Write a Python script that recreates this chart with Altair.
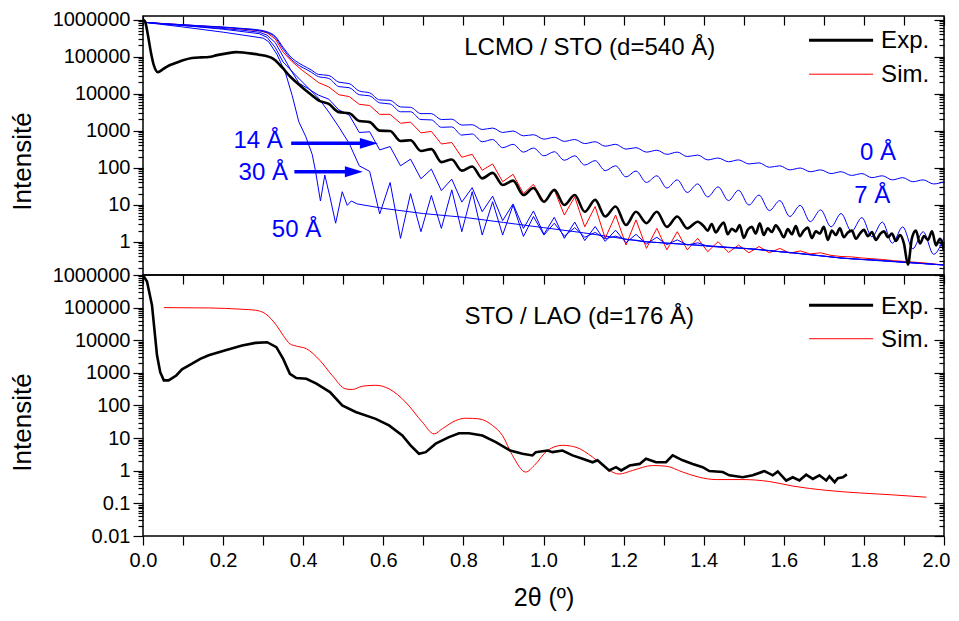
import altair as alt
import pandas as pd

FONT = "Liberation Sans"
BLUE, RED, BLACK = "#0000ff", "#ff0000", "#000000"

# ------------------------------------------------------------------
# Data (values are log10 of the intensity)
# ------------------------------------------------------------------
# Positions of the fringe extrema (alternating trough / peak) in 2theta
fringe_x = [0.438, 0.464, 0.489, 0.515, 0.540, 0.566, 0.591, 0.617, 0.643, 0.668,
            0.694, 0.720, 0.745, 0.771, 0.796, 0.822, 0.847, 0.873, 0.898, 0.924,
            0.950, 0.975, 1.001, 1.027, 1.052, 1.078, 1.103, 1.129, 1.154, 1.180,
            1.206, 1.231, 1.257, 1.283, 1.308, 1.334, 1.359, 1.385, 1.410, 1.436,
            1.462, 1.487, 1.513, 1.538, 1.564, 1.590, 1.615, 1.641, 1.666, 1.692,
            1.718, 1.743, 1.769, 1.795, 1.820, 1.846, 1.871, 1.897, 1.922, 1.948,
            1.974, 2.000]

edge_x = [0.0, 0.05, 0.1, 0.15, 0.2, 0.25, 0.29, 0.31, 0.33, 0.35, 0.37, 0.39, 0.41, 0.42]

# simulation, roughness 0 A
r0_edge_lg = [5.93, 5.89, 5.86, 5.83, 5.80, 5.76, 5.72, 5.67, 5.55, 5.25, 4.98, 4.82, 4.70, 4.64]
r0_fringe_lg = [4.52, 4.49, 4.31, 4.27, 4.07, 4.02, 3.83, 3.82, 3.64, 3.63,
                3.46, 3.46, 3.30, 3.31, 3.15, 3.16, 3.03, 3.07, 2.95, 2.99,
                2.86, 2.89, 2.77, 2.82, 2.71, 2.76, 2.65, 2.70, 2.58, 2.63,
                2.50, 2.54, 2.42, 2.47, 2.36, 2.42, 2.30, 2.34, 2.21, 2.26,
                2.16, 2.21, 2.10, 2.13, 2.01, 2.05, 1.94, 1.99, 1.89, 1.94,
                1.84, 1.89, 1.79, 1.84, 1.73, 1.78, 1.67, 1.73, 1.62, 1.67,
                1.56, 1.62]

# simulation, roughness 7 A
r7_edge_lg = [5.93, 5.89, 5.86, 5.82, 5.79, 5.75, 5.70, 5.65, 5.52, 5.20, 4.93, 4.76, 4.64, 4.58]
r7_fringe_lg = [4.46, 4.41, 4.19, 4.16, 3.97, 3.94, 3.75, 3.72, 3.51, 3.51,
                3.30, 3.29, 3.09, 3.10, 2.88, 2.91, 2.70, 2.76, 2.54, 2.63,
                2.42, 2.53, 2.32, 2.43, 2.20, 2.32, 2.07, 2.19, 1.92, 2.05,
                1.75, 1.91, 1.60, 1.78, 1.45, 1.67, 1.33, 1.56, 1.21, 1.48,
                1.11, 1.39, 0.99, 1.26, 0.84, 1.11, 0.68, 0.98, 0.54, 0.86,
                0.40, 0.76, 0.28, 0.65, 0.13, 0.53, -0.04, 0.40, -0.19, 0.27,
                -0.34, 0.12]

# simulation, roughness 14 A
r14_edge_lg = [5.93, 5.88, 5.84, 5.80, 5.76, 5.71, 5.66, 5.58, 5.38, 5.00, 4.62, 4.28, 4.15, 4.08]
r14_fringe_lg = [3.96, 3.85, 3.56, 3.42, 2.95, 2.97, 2.48, 2.57, 2.05, 2.23,
                 1.70, 1.96, 1.38, 1.69, 1.07, 1.46, 0.81, 1.23, 0.57, 1.02,
                 0.36, 0.83, 0.20, 0.66, 0.09, 0.53, 0.03, 0.41, 0.01, 0.31,
                 -0.03, 0.20, -0.06, 0.12, -0.08, 0.05, -0.09, -0.03, -0.12, -0.14,
                 -0.16, -0.17, -0.19, -0.21, -0.24, -0.27, -0.29, -0.32, -0.35, -0.38,
                 -0.41, -0.44, -0.46, -0.48, -0.49, -0.51, -0.53, -0.55, -0.57, -0.59,
                 -0.61, -0.63]

# simulation, roughness 30 A
r30_edge_x = [0.0, 0.1, 0.2, 0.29, 0.31, 0.33, 0.35, 0.381, 0.414]
r30_edge_lg = [5.93, 5.84, 5.74, 5.62, 5.52, 5.25, 4.85, 4.50, 4.14]
r30_fringe_lg = [3.88, 3.50, 3.10, 2.65, 2.05, 1.90, 0.75, 1.60, 0.09, 1.30,
                 0.27, 1.25, 0.36, 1.40, 0.27, 1.35, 0.18, 1.08, 0.18, 0.99,
                 0.14, 0.68, 0.18, 0.50, 0.15, 0.38, 0.12, 0.25, 0.08, 0.15,
                 0.06, 0.04, 0.00, -0.02, -0.04, -0.06, -0.08, -0.10, -0.12, -0.14,
                 -0.16, -0.17, -0.19, -0.21, -0.24, -0.27, -0.29, -0.32, -0.35, -0.38,
                 -0.41, -0.44, -0.46, -0.48, -0.49, -0.51, -0.53, -0.55, -0.57, -0.59,
                 -0.61, -0.63]

# simulation, roughness 50 A
r50_x = [0.0, 0.1, 0.2, 0.3, 0.314, 0.335, 0.356, 0.3725, 0.389, 0.406,
         0.4225, 0.431, 0.443, 0.454, 0.467, 0.481, 0.4975, 0.51, 0.52, 0.535,
         0.6, 0.7, 0.8, 0.9, 1.0, 1.1, 1.25, 1.4, 1.5, 1.6, 1.75, 1.9, 2.0]
r50_lg = [5.93, 5.80, 5.66, 5.50, 5.40, 5.05, 4.55, 3.95, 3.24, 2.85,
          2.36, 1.89, 1.10, 1.80, 1.20, 0.50, 1.35, 0.98, 1.10, 1.02,
          0.90, 0.76, 0.66, 0.52, 0.38, 0.24, 0.00, -0.10, -0.18, -0.28,
          -0.45, -0.56, -0.63]

# best fit simulation (red), LCMO / STO
fit_edge_x = [0.0, 0.1, 0.2, 0.29, 0.31, 0.33, 0.35, 0.3725, 0.3975, 0.42]
fit_edge_lg = [5.93, 5.86, 5.79, 5.70, 5.64, 5.48, 5.12, 4.86, 4.63, 4.45]
fit_fringe_lg = [4.30, 4.18, 3.97, 3.92, 3.71, 3.68, 3.44, 3.44, 3.20, 3.23,
                 2.94, 2.98, 2.64, 2.68, 2.28, 2.36, 1.93, 2.10, 1.62, 1.82,
                 1.30, 1.55, 1.08, 1.40, 0.72, 1.21, 0.40, 0.95, 0.09, 0.72,
                 -0.09, 0.59, -0.18, 0.36, -0.22, 0.27, -0.22, 0.09, -0.27, 0.00,
                 -0.29, -0.09, -0.30, -0.13, -0.30, -0.18, -0.31, -0.25, -0.33, -0.30,
                 -0.37, -0.40, -0.41, -0.44, -0.46, -0.48, -0.51, -0.53, -0.55, -0.57,
                 -0.60, -0.63]

# measurement (black), LCMO / STO
exp_edge_x = [0.0, 0.005, 0.012, 0.02, 0.027, 0.037, 0.05, 0.065, 0.08, 0.1,
              0.1225, 0.145, 0.164, 0.185, 0.206, 0.233, 0.25, 0.2725, 0.29, 0.306,
              0.32, 0.33, 0.34, 0.35, 0.36, 0.3725, 0.39, 0.406, 0.42]
exp_edge_lg = [6.0, 5.95, 5.6, 5.1, 4.77, 4.58, 4.66, 4.76, 4.82, 4.90,
               4.96, 4.98, 4.99, 5.04, 5.08, 5.12, 5.11, 5.08, 5.05, 5.02,
               4.97, 4.90, 4.79, 4.68, 4.55, 4.41, 4.24, 4.09, 3.97]
exp_fringe_lg = [3.82, 3.72, 3.50, 3.47, 3.26, 3.23, 3.00, 2.99, 2.72, 2.74,
                 2.45, 2.50, 2.15, 2.22, 1.92, 2.03, 1.71, 1.86, 1.53, 1.65,
                 1.26, 1.45, 1.08, 1.40, 0.99, 1.26, 0.81, 1.13, 0.68, 0.95,
                 0.45, 0.81, 0.50, 0.81, 0.40, 0.68, 0.36, 0.54]
exp_tail_x = [round(1.40 + 0.01 * i, 2) for i in range(61)]
exp_tail_lg = [0.42, 0.30, 0.48, 0.25, 0.40, 0.52, 0.20, 0.35, 0.28, 0.45,
               0.10, 0.32, 0.40, 0.22, 0.50, 0.18, 0.36, 0.26, 0.44, 0.30,
               0.12, 0.34, 0.20, 0.42, 0.15, 0.30, 0.38, 0.10, 0.28, 0.22,
               0.40, 0.05, 0.30, 0.18, 0.36, 0.12, 0.25, 0.30, 0.08, 0.22,
               0.32, 0.15, 0.26, 0.05, 0.20, 0.28, 0.12, 0.22, 0.02, 0.18,
               -0.05, -0.62, 0.10, 0.30, -0.05, 0.15, 0.05, 0.28, -0.10, 0.08,
               -0.25]

# STO / LAO measurement (black)
lao_exp_x = [0.0, 0.01, 0.0225, 0.035, 0.043, 0.052, 0.064, 0.083, 0.0975, 0.1225,
             0.143, 0.164, 0.206, 0.2475, 0.281, 0.31, 0.333, 0.35, 0.3668, 0.383,
             0.408, 0.433, 0.4668, 0.4975, 0.531, 0.581, 0.6143, 0.6475, 0.668, 0.689,
             0.706, 0.7308, 0.764, 0.789, 0.814, 0.8475, 0.881, 0.9168, 0.9475, 0.9725,
             0.981, 1.01, 1.0225, 1.0475, 1.0725, 1.0975, 1.1225, 1.135, 1.164, 1.181,
             1.194, 1.215, 1.24, 1.256, 1.281, 1.306, 1.3225, 1.3475, 1.3725, 1.3975,
             1.414, 1.4475, 1.464, 1.4975, 1.5225, 1.5518, 1.5725, 1.585, 1.606, 1.6225,
             1.639, 1.6558, 1.6725, 1.689, 1.706, 1.714, 1.727, 1.735, 1.7475, 1.7575]
lao_exp_lg = [6.0, 5.8, 5.07, 3.54, 3.02, 2.77, 2.77, 2.92, 3.11, 3.28,
              3.43, 3.54, 3.69, 3.84, 3.92, 3.94, 3.79, 3.43, 2.97, 2.84,
              2.82, 2.67, 2.41, 2.00, 1.80, 1.59, 1.39, 1.08, 0.78, 0.52,
              0.57, 0.83, 1.03, 1.15, 1.15, 1.08, 0.88, 0.62, 0.52, 0.47,
              0.57, 0.62, 0.57, 0.62, 0.47, 0.37, 0.26, 0.32, 0.01, 0.11,
              0.01, 0.16, 0.21, 0.37, 0.26, 0.26, 0.47, 0.32, 0.21, 0.11,
              -0.01, -0.04, -0.14, -0.20, -0.14, -0.01, -0.14, -0.02, -0.30, -0.20,
              -0.30, -0.12, -0.25, -0.14, -0.30, -0.17, -0.35, -0.23, -0.20, -0.11]

# STO / LAO simulation (red)
lao_sim_x = [0.052, 0.164, 0.2475, 0.281, 0.306, 0.333, 0.35, 0.3668, 0.383, 0.408,
             0.4418, 0.4725, 0.5058, 0.5225, 0.5475, 0.581, 0.6143, 0.656, 0.6975, 0.7268,
             0.7475, 0.781, 0.806, 0.839, 0.8725, 0.8975, 0.9225, 0.9558, 0.9768, 1.01,
             1.0475, 1.081, 1.1225, 1.164, 1.189, 1.2225, 1.2725, 1.306, 1.3475, 1.389,
             1.431, 1.4975, 1.564, 1.6225, 1.706, 1.789, 1.8725, 1.956]
lao_sim_lg = [5.0, 4.99, 4.95, 4.92, 4.81, 4.46, 4.15, 3.89, 3.82, 3.74,
              3.38, 2.92, 2.51, 2.49, 2.59, 2.62, 2.51, 2.10, 1.49, 1.13,
              1.29, 1.54, 1.61, 1.59, 1.39, 1.08, 0.47, -0.04, 0.16, 0.62,
              0.78, 0.72, 0.42, 0.01, -0.10, 0.01, 0.16, 0.14, -0.04, -0.20,
              -0.27, -0.27, -0.33, -0.47, -0.60, -0.68, -0.74, -0.81]

# Annotations (data coordinates: 2theta, log10 intensity)
top_title = ["LCMO / STO (d=540 Å)"]
top_title_x = [0.802]
top_title_lg = [5.04]
rough_labels = ["14 Å", "30 Å", "50 Å", "0 Å", "7 Å"]
rough_label_x = [0.349, 0.362, 0.445, 1.880, 1.866]
rough_label_lg = [2.52, 1.665, 0.135, 2.205, 1.036]
arrow_start = [0.370, 0.378]
arrow_tip = [0.5865, 0.549]
arrow_lg = [2.657, 1.889]
legend_labels = ["Exp.", "Sim."]
top_legend_lg_line = [5.44, 4.525]
top_legend_lg_text = [5.22, 4.32]
bot_title = ["STO / LAO (d=176 Å)"]
bot_title_x = [0.8025]
bot_title_lg = [4.506]
bot_legend_lg_line = [5.07, 4.046]
bot_legend_lg_text = [4.813, 3.79]
legend_line_x = [1.663, 1.823]
legend_text_x = 1.843

x_tick_values = [0.0, 0.1, 0.2, 0.3, 0.4, 0.5, 0.6, 0.7, 0.8, 0.9, 1.0,
                 1.1, 1.2, 1.3, 1.4, 1.5, 1.6, 1.7, 1.8, 1.9, 2.0]

# ------------------------------------------------------------------
W, H_TOP, H_BOT = 801, 259, 261
TOP_DOMAIN = [0.126, 1.25e6]
BOT_DOMAIN = [0.01, 1e6]


def log_ticks(lo, hi):
    vals = [m * 10.0 ** e for e in range(-3, 7) for m in range(1, 10)]
    return [v for v in vals if lo * 0.999 <= v <= hi * 1.001]


def frame(name, xs, lgs):
    assert len(xs) == len(lgs), (name, len(xs), len(lgs))
    return pd.DataFrame({"x": xs, "lg": lgs, "curve": name})


MAJ = "abs(log(datum.value) / LN10 - round(log(datum.value) / LN10)) < 0.01"
YTICK = {"condition": {"test": MAJ, "value": 10}, "value": 5}
YLAB = (f"({MAJ}) ? (datum.value >= 1 ? format(datum.value, 'd') : "
        "format(datum.value, '.2~f')) : ''")
XLAB = "round(datum.value * 10) % 2 == 0 ? format(datum.value, '.1f') : ''"
XLAB_OFFSET = {"condition": {"test": "datum.value > 1.99", "value": -8}, "value": 0}


def y_left(vals, title_y):
    return alt.Axis(orient="left", values=vals, labelExpr=YLAB, tickSize=YTICK,
                    tickWidth=1.2, tickColor=BLACK, domain=False, grid=False,
                    labelFont=FONT, labelFontSize=20, labelColor=BLACK, labelPadding=3,
                    labelOverlap=False, labelFlush=False,
                    title="Intensité", titleFont=FONT, titleFontSize=26,
                    titleFontWeight="normal", titleColor=BLACK, titlePadding=17,
                    titleY=title_y)


def y_right_in(vals):
    return alt.Axis(orient="left", offset=-W, values=vals, labels=False, tickSize=YTICK,
                    tickWidth=1.2, tickColor=BLACK, domain=False, grid=False, title=None)


def x_top_in(h):
    return alt.Axis(orient="bottom", offset=-h, values=x_tick_values, labels=False,
                    tickSize=9, tickWidth=1.2, tickColor=BLACK, domain=False,
                    grid=False, title=None)


x_bottom = alt.Axis(orient="bottom", values=x_tick_values, labelExpr=XLAB, tickSize=9,
                    tickWidth=1.2, tickColor=BLACK, domain=False, grid=False,
                    labelFont=FONT, labelFontSize=20, labelColor=BLACK, labelPadding=5,
                    labelOffset=XLAB_OFFSET,
                    labelOverlap=False, labelFlush=False,
                    title="2θ (º)", titleFont=FONT, titleFontSize=25,
                    titleFontWeight="normal", titleColor=BLACK, titlePadding=15)

x_scale = alt.Scale(domain=[0, 2], nice=False, zero=False)


def lines(df, color, width, interp, yscale, xaxis=None, yaxis=None):
    return (alt.Chart(df)
            .transform_calculate(y="pow(10, datum.lg)")
            .mark_line(color=color, strokeWidth=width, interpolate=interp, clip=True)
            .encode(x=alt.X("x:Q", scale=x_scale, axis=xaxis),
                    y=alt.Y("y:Q", scale=yscale, axis=yaxis),
                    detail="curve:N"))


def texts(df, color, align, yscale, size=24):
    return (alt.Chart(df)
            .transform_calculate(y="pow(10, datum.lg)")
            .mark_text(align=align, baseline="alphabetic", font=FONT, fontSize=size,
                       color=color)
            .encode(x=alt.X("x:Q", scale=x_scale, axis=None),
                    y=alt.Y("y:Q", scale=yscale, axis=None),
                    text="label:N"))


def legend_rule(lg, color, width, yscale):
    df = pd.DataFrame({"x0": [legend_line_x[0]], "x1": [legend_line_x[1]], "lg": [lg]})
    return (alt.Chart(df)
            .transform_calculate(y="pow(10, datum.lg)")
            .mark_rule(color=color, strokeWidth=width)
            .encode(x=alt.X("x0:Q", scale=x_scale, axis=None), x2="x1:Q",
                    y=alt.Y("y:Q", scale=yscale, axis=None)))


# ---------------- top panel ----------------
ys_top = alt.Scale(type="log", domain=TOP_DOMAIN, nice=False)
top_ticks = log_ticks(*TOP_DOMAIN)

blue_smooth = pd.concat([
    frame("0 Å", edge_x + fringe_x, r0_edge_lg + r0_fringe_lg),
    frame("7 Å", edge_x + fringe_x, r7_edge_lg + r7_fringe_lg),
])
blue_sharp = pd.concat([
    frame("14 Å", edge_x + fringe_x, r14_edge_lg + r14_fringe_lg),
    frame("30 Å", r30_edge_x + fringe_x, r30_edge_lg + r30_fringe_lg),
    frame("50 Å", r50_x, r50_lg),
])
fit_top = frame("Sim.", fit_edge_x + fringe_x, fit_edge_lg + fit_fringe_lg)
exp_top = frame("Exp.", exp_edge_x + fringe_x[:len(exp_fringe_lg)] + exp_tail_x,
                exp_edge_lg + exp_fringe_lg + exp_tail_lg)

arrows = pd.DataFrame({"x0": arrow_start, "tip": arrow_tip, "lg": arrow_lg})
arrow_shaft = (alt.Chart(arrows)
               .transform_calculate(y="pow(10, datum.lg)", xe="datum.tip - 0.02")
               .mark_rule(color=BLUE, strokeWidth=3.5)
               .encode(x=alt.X("x0:Q", scale=x_scale, axis=None), x2="xe:Q",
                       y=alt.Y("y:Q", scale=ys_top, axis=None)))
arrow_head = (alt.Chart(arrows)
              .transform_calculate(y="pow(10, datum.lg)")
              .mark_point(shape="M 0 0 L -2 -0.6 L -2 0.6 Z", size=324, filled=True,
                          color=BLUE, opacity=1, strokeWidth=0)
              .encode(x=alt.X("tip:Q", scale=x_scale, axis=None),
                      y=alt.Y("y:Q", scale=ys_top, axis=None)))

top_layers = [
    lines(fit_top, RED, 1, "linear", ys_top, xaxis=x_top_in(H_TOP), yaxis=y_right_in(top_ticks)),
    lines(blue_smooth, BLUE, 1, "monotone", ys_top),
    lines(blue_sharp, BLUE, 1, "linear", ys_top),
    lines(exp_top, BLACK, 2.6, "monotone", ys_top, xaxis=None, yaxis=y_left(top_ticks, 145)),
    texts(pd.DataFrame({"x": top_title_x, "lg": top_title_lg, "label": top_title}), BLACK, "left", ys_top),
    texts(pd.DataFrame({"x": [legend_text_x] * 2, "lg": top_legend_lg_text, "label": legend_labels}), BLACK, "left", ys_top),
    texts(pd.DataFrame({"x": rough_label_x, "lg": rough_label_lg, "label": rough_labels}), BLUE, "right", ys_top),
    legend_rule(top_legend_lg_line[0], BLACK, 3, ys_top),
    legend_rule(top_legend_lg_line[1], RED, 1, ys_top),
    arrow_shaft,
    arrow_head,
]
top = (alt.layer(*top_layers)
       .resolve_axis(x="independent", y="independent")
       .properties(width=W, height=H_TOP))

# ---------------- bottom panel ----------------
ys_bot = alt.Scale(type="log", domain=BOT_DOMAIN, nice=False)
bot_ticks = log_ticks(*BOT_DOMAIN)

bot_layers = [
    lines(frame("Sim.", lao_sim_x, lao_sim_lg), RED, 1, "monotone", ys_bot,
          xaxis=x_top_in(H_BOT), yaxis=y_right_in(bot_ticks)),
    lines(frame("Exp.", lao_exp_x, lao_exp_lg), BLACK, 2.6, "linear", ys_bot,
          xaxis=x_bottom, yaxis=y_left(bot_ticks, 147)),
    texts(pd.DataFrame({"x": bot_title_x, "lg": bot_title_lg, "label": bot_title}), BLACK, "left", ys_bot),
    texts(pd.DataFrame({"x": [legend_text_x] * 2, "lg": bot_legend_lg_text, "label": legend_labels}), BLACK, "left", ys_bot),
    legend_rule(bot_legend_lg_line[0], BLACK, 3, ys_bot),
    legend_rule(bot_legend_lg_line[1], RED, 1, ys_bot),
]
bottom = (alt.layer(*bot_layers)
          .resolve_axis(x="independent", y="independent")
          .properties(width=W, height=H_BOT))

chart = (alt.vconcat(top, bottom, spacing=0, bounds="flush")
         .properties(padding={"left": 0, "top": 0, "right": 0, "bottom": 0})
         .configure_view(stroke=BLACK, strokeWidth=1.5))

chart.save("out.html", embed_options={"renderer": "svg", "actions": False})
